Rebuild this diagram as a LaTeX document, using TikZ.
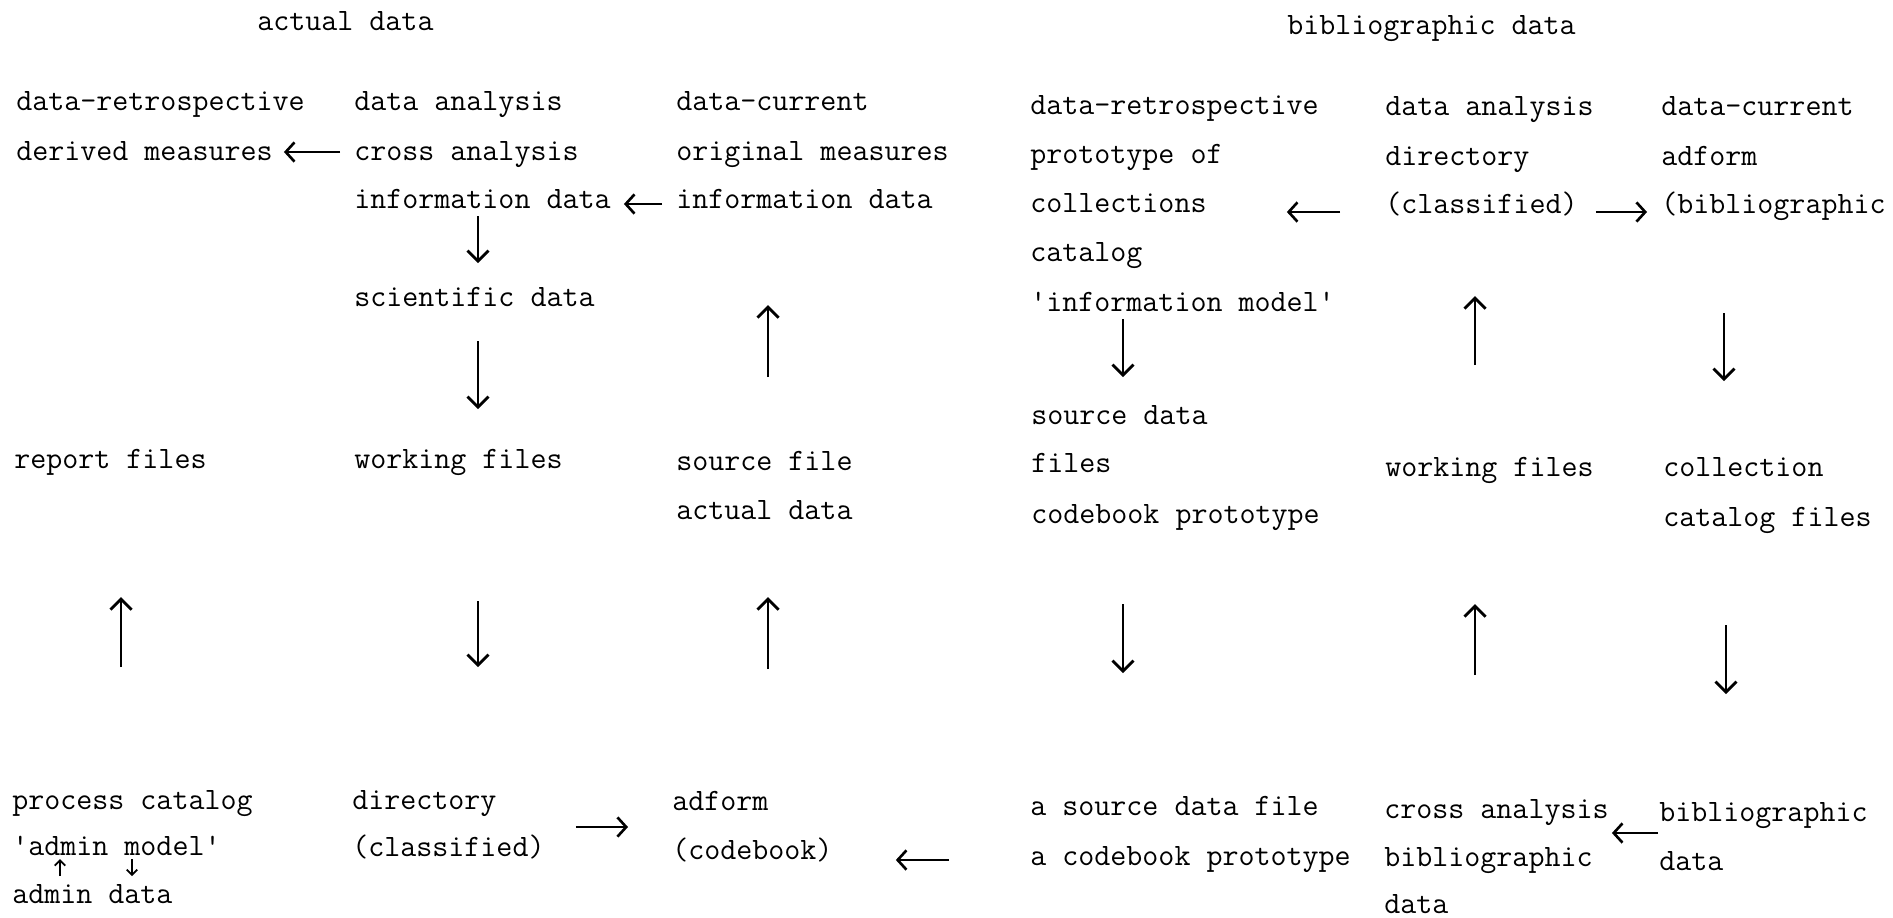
\documentclass[tikz,border=0pt]{standalone}
\usetikzlibrary{arrows.meta}
\newlength\pxu
\setlength\pxu{0.02cm}

\begin{document}
\begin{tikzpicture}[x=0.02cm, y=-0.02cm]
	\tikzset{line/.style={anchor=mid west, inner sep=0pt, text height=11pt, text depth=4pt, font=\ttfamily\fontsize{17.7}{20}\selectfont},
		arr/.style={-{Straight Barb[length=6pt, width=12pt]}, line width=1.6pt},
		harr/.style={-{Straight Barb[length=5pt, width=11pt, line width=1.5pt]}, line width=0.9pt},
		small/.style={-{Straight Barb[length=3pt, width=6pt]}, line width=1pt},
		gap/.style 2 args={shorten <=#1\pxu, shorten >=#2\pxu}}
	\useasboundingbox (0,0) rectangle (1893,917);
	
	% Headings
	\node[line] (hdrA) at (257,27) {actual data};
	\node[line] (hdrB) at (1287,31) {bibliographic data};
	
	% Actual data, first column
	\node[line] (l1a) at (16,107) {data-retrospective};
	\node[line] (l1b) at (16,157) {derived measures};
	\node[line] (l1c) at (14,465) {report files};
	\node[line] (l1d) at (12,806) {process catalog};
	\node[line] (l1e) at (12,852) {\textquotesingle admin model\textquotesingle};
	\node[line] (l1f) at (12,900) {admin data};
	
	% Actual data, second column
	\node[line] (l2a) at (354,107) {data analysis};
	\node[line] (l2b) at (354,157) {cross analysis};
	\node[line] (l2c) at (354,205) {information data};
	\node[line] (l2d) at (354,303) {scientific data};
	\node[line] (l2e) at (354,465) {working files};
	\node[line] (l2f) at (352,806) {directory};
	\node[line] (l2g) at (352,853) {(classified)};
	
	% Actual data, third column
	\node[line] (l3a) at (676,107) {data-current};
	\node[line] (l3b) at (676,157) {original measures};
	\node[line] (l3c) at (676,205) {information data};
	\node[line] (l3d) at (676,467) {source file};
	\node[line] (l3e) at (676,516) {actual data};
	\node[line] (l3f) at (672,807) {adform};
	\node[line] (l3g) at (672,856) {(codebook)};
	
	% Bibliographic data, first column
	\node[line] (r1a) at (1030,111) {data-retrospective};
	\node[line] (r1b) at (1030,160) {prototype of};
	\node[line] (r1c) at (1030,209) {collections};
	\node[line] (r1d) at (1030,258) {catalog};
	\node[line] (r1e) at (1030,308) {\textquotesingle information model\textquotesingle};
	\node[line] (r1f) at (1031,421) {source data};
	\node[line] (r1g) at (1031,469) {files};
	\node[line] (r1h) at (1031,520) {codebook prototype};
	\node[line] (r1i) at (1030,812) {a source data file};
	\node[line] (r1j) at (1030,862) {a codebook prototype};
	
	% Bibliographic data, second column
	\node[line] (r2a) at (1385,112) {data analysis};
	\node[line] (r2b) at (1385,162) {directory};
	\node[line] (r2c) at (1385,210) {(classified)};
	\node[line] (r2d) at (1385,473) {working files};
	\node[line] (r2e) at (1384,815) {cross analysis};
	\node[line] (r2f) at (1384,863) {bibliographic};
	\node[line] (r2g) at (1384,910) {data};
	
	% Bibliographic data, third column
	\node[line] (r3a) at (1661,112) {data-current};
	\node[line] (r3b) at (1661,162) {adform};
	\node[line] (r3c) at (1661,210) {(bibliographic};
	\node[line] (r3d) at (1663,473) {collection};
	\node[line] (r3e) at (1663,523) {catalog files};
	\node[line] (r3f) at (1659,818) {bibliographic};
	\node[line] (r3g) at (1659,867) {data};
	
	% Arrows, actual data
	\draw[harr, gap={14}{11}] (l2b.west |- 0,152) -- (l1b.east |- 0,152);
	\draw[harr, gap={14}{13}] (l3c.west |- 0,204) -- (l2c.east |- 0,204);
	\draw[arr, gap={0}{24}] (l2c.south -| 478,0) -- (l2d.north -| 478,0);
	\draw[arr, gap={27}{40}] (l2d.south -| 478,0) -- (l2e.north -| 478,0);
	\draw[arr, gap={74}{89}] (l3d.north -| 768,0) -- (l3c.south -| 768,0);
	\draw[arr, gap={123}{121}] (l1d.north -| 121,0) -- (l1c.south -| 121,0);
	\draw[arr, gap={125}{123}] (l2e.south -| 478,0) -- (l2f.north -| 478,0);
	\draw[arr, gap={122}{70}] (l3f.north -| 768,0) -- (l3e.south -| 768,0);
	\draw[small, gap={8}{-4}] (l1f.north -| 60,0) -- (l1e.south -| 60,0);
	\draw[small, gap={-4}{8}] (l1e.south -| 132,0) -- (l1f.north -| 132,0);
	\draw[harr, gap={31}{44}] (l2g.east |- 0,827) -- (l3f.west |- 0,827);
	\draw[harr, gap={81}{63}] (r1j.west |- 0,860) -- (l3g.east |- 0,860);
	
	% Arrows, bibliographic data
	\draw[harr, gap={45}{80}] (r2c.west |- 0,212) -- (r1c.east |- 0,212);
	\draw[harr, gap={18}{14}] (r2c.east |- 0,212) -- (r3c.west |- 0,212);
	\draw[arr, gap={0}{28}] (r1e.south -| 1123,0) -- (r1f.north -| 1123,0);
	\draw[arr, gap={92}{75}] (r2d.north -| 1475,0) -- (r2c.south -| 1475,0);
	\draw[arr, gap={92}{76}] (r3c.south -| 1724,0) -- (r3d.north -| 1724,0);
	\draw[arr, gap={73}{123}] (r1h.south -| 1123,0) -- (r1i.north -| 1123,0);
	\draw[arr, gap={124}{120}] (r2e.north -| 1475,0) -- (r2d.south -| 1475,0);
	\draw[arr, gap={91}{108}] (r3e.south -| 1726,0) -- (r3f.north -| 1726,0);
	\draw[harr, gap={1}{3}] (r3f.west |- 0,833) -- (r2e.east |- 0,833);
\end{tikzpicture}
\end{document}
